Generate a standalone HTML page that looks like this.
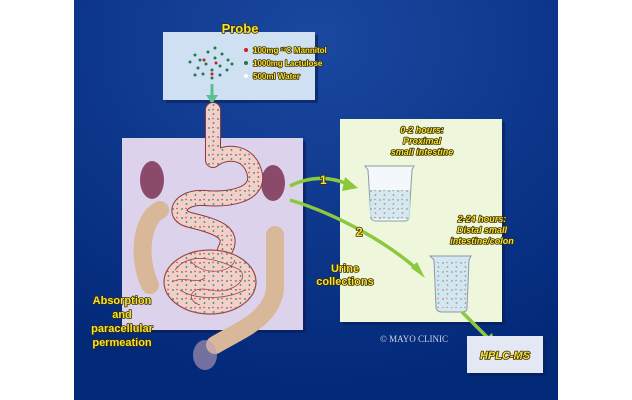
<!DOCTYPE html>
<html><head><style>
body{margin:0;width:632px;height:400px;background:#fff;position:relative;overflow:hidden;font-family:"Liberation Sans",Arial,sans-serif}
.y{fill:#f5e23a;stroke:#3a2e00;stroke-width:1.6;stroke-linejoin:round;font-weight:bold;font-family:"Liberation Sans",Arial,sans-serif;paint-order:stroke}
</style></head><body>
<svg width="632" height="400" viewBox="0 0 632 400" style="position:absolute;left:0;top:0">
<defs>
<radialGradient id="bg" cx="50%" cy="10%" r="90%"><stop offset="0" stop-color="#1a48a0"/><stop offset="1" stop-color="#022878"/></radialGradient>
<pattern id="dots" width="9" height="9" patternUnits="userSpaceOnUse"><circle cx="2" cy="2" r=".9" fill="#2a8a5a"/><circle cx="6.5" cy="6" r=".9" fill="#2a8a5a"/><circle cx="6" cy="1.5" r=".7" fill="#c83030"/></pattern>
</defs>
<rect x="74" y="0" width="484" height="400" fill="url(#bg)"/>
<!-- probe box -->
<rect x="166" y="35" width="152" height="68" fill="#0a1e55" opacity=".6"/>
<rect x="163" y="32" width="152" height="68" fill="#cfe0f2"/>
<text x="240" y="33" class="y" font-size="13" text-anchor="middle">Probe</text>
<g fill="#1e7a4a">
<circle cx="195" cy="55" r="1.5"/><circle cx="200" cy="60" r="1.5"/><circle cx="208" cy="52" r="1.5"/><circle cx="215" cy="58" r="1.5"/><circle cx="222" cy="54" r="1.5"/><circle cx="228" cy="60" r="1.5"/><circle cx="190" cy="62" r="1.5"/><circle cx="198" cy="68" r="1.5"/><circle cx="206" cy="64" r="1.5"/><circle cx="212" cy="70" r="1.5"/><circle cx="220" cy="66" r="1.5"/><circle cx="227" cy="70" r="1.5"/><circle cx="203" cy="74" r="1.5"/><circle cx="212" cy="78" r="1.5"/><circle cx="220" cy="75" r="1.5"/><circle cx="195" cy="75" r="1.5"/><circle cx="215" cy="48" r="1.5"/><circle cx="232" cy="64" r="1.5"/>
</g>
<g fill="#c82020"><circle cx="204" cy="60" r="1.5"/><circle cx="216" cy="63" r="1.5"/><circle cx="212" cy="74" r="1.5"/></g>
<circle cx="246" cy="50" r="2" fill="#c82020"/><circle cx="246" cy="63" r="2" fill="#1e7a4a"/><circle cx="246" cy="76" r="2" fill="#fff"/>
<text x="253" y="53" class="y" font-size="8">100mg ¹³C Mannitol</text>
<text x="253" y="66" class="y" font-size="8">1000mg Lactulose</text>
<text x="253" y="79" class="y" font-size="8">500ml Water</text>
<path d="M212 84 L212 98" stroke="#5ac090" stroke-width="3"/><path d="M206 95 L212 104 L218 95Z" fill="#5ac090"/>
<!-- lavender box -->
<rect x="125" y="141" width="181" height="192" fill="#0a1e55" opacity=".6"/>
<rect x="122" y="138" width="181" height="192" fill="#dcd2ec"/>
<!-- kidneys -->
<ellipse cx="152" cy="180" rx="12" ry="19" fill="#8a4a6a"/>
<ellipse cx="273" cy="183" rx="12" ry="18" fill="#8a4a6a"/>
<!-- colon -->
<path d="M160 210 C140 220 138 260 150 285 M275 235 L275 290 C270 320 240 330 215 345" fill="none" stroke="#d8b898" stroke-width="18" stroke-linecap="round"/>
<!-- esophagus / stomach / duodenum -->
<g fill="none" stroke-linecap="round" stroke-linejoin="round">
<path d="M213 110 L213 160 C225 150 250 150 255 175 C258 195 230 200 205 198 C180 196 170 215 190 220 C215 226 235 232 225 250" stroke="#8a3a3a" stroke-width="16"/>
<path d="M213 110 L213 160 C225 150 250 150 255 175 C258 195 230 200 205 198 C180 196 170 215 190 220 C215 226 235 232 225 250" stroke="#f3cfcc" stroke-width="14"/>
<path d="M213 110 L213 160 C225 150 250 150 255 175 C258 195 230 200 205 198 C180 196 170 215 190 220 C215 226 235 232 225 250" stroke="url(#dots)" stroke-width="14"/>
</g>
<!-- small intestine -->
<ellipse cx="210" cy="282" rx="46" ry="32" fill="#f3cfcc" stroke="#9a4a4a" stroke-width="1.2"/>
<ellipse cx="210" cy="282" rx="46" ry="32" fill="url(#dots)"/>
<g fill="none" stroke="#9a4a4a" stroke-width=".8"><path d="M175 270 C190 250 220 260 240 270 C250 280 230 295 210 290 C190 285 185 300 200 305"/><path d="M180 290 C195 300 225 300 245 290"/><path d="M190 260 C200 275 230 275 235 260"/><path d="M172 282 C185 275 195 285 205 278"/></g>
<ellipse cx="205" cy="355" rx="12" ry="15" fill="#c0a0b8" opacity=".6"/>
<!-- green box -->
<rect x="343" y="122" width="162" height="203" fill="#0a1e55" opacity=".6"/>
<rect x="340" y="119" width="162" height="203" fill="#eef6dc"/>
<text x="422" y="133" class="y" font-size="9" font-style="italic" text-anchor="middle">0-2 hours:</text>
<text x="422" y="144" class="y" font-size="9" font-style="italic" text-anchor="middle">Proximal</text>
<text x="422" y="155" class="y" font-size="9" font-style="italic" text-anchor="middle">small intestine</text>
<path d="M365 166 L368 170 L371 218 Q372 221 376 221 L405 221 Q408 221 409 218 L412 170 L414 166Z" fill="#f4f8fa" stroke="#8a9aa8"/>
<rect x="370" y="190" width="40" height="29" fill="#cfe2ee" opacity=".8"/>
<rect x="370" y="190" width="40" height="29" fill="url(#dots)" opacity=".6"/>
<text x="482" y="222" class="y" font-size="9" font-style="italic" text-anchor="middle">2-24 hours:</text>
<text x="482" y="233" class="y" font-size="9" font-style="italic" text-anchor="middle">Distal small</text>
<text x="482" y="244" class="y" font-size="9" font-style="italic" text-anchor="middle">intestine/colon</text>
<path d="M430 256 L434 260 L436 308 Q437 312 442 312 L462 312 Q467 312 467 308 L469 260 L471 256Z" fill="#d4e6f0" stroke="#8a9aa8"/>
<rect x="436" y="262" width="31" height="46" fill="url(#dots)" opacity=".6"/>
<!-- arrows -->
<path d="M290 186 C310 176 330 176 350 185" fill="none" stroke="#8cc83c" stroke-width="3.5"/>
<path d="M345 177 L358 188 L342 191Z" fill="#8cc83c"/>
<path d="M290 200 C340 215 390 245 418 270" fill="none" stroke="#8cc83c" stroke-width="3.5"/>
<path d="M411 268 L425 278 L417 262Z" fill="#8cc83c"/>
<path d="M462 312 L490 340" stroke="#8cc83c" stroke-width="3.5"/>
<path d="M483 341 L496 346 L492 333Z" fill="#8cc83c"/>
<text x="320" y="184" class="y" font-size="12">1</text>
<text x="356" y="236" class="y" font-size="12">2</text>
<text x="345" y="272" class="y" font-size="11" text-anchor="middle">Urine</text>
<text x="345" y="285" class="y" font-size="11" text-anchor="middle">collections</text>
<text x="380" y="342" fill="#d0d4e0" font-size="9" font-family="Liberation Serif,serif">© MAYO CLINIC</text>
<!-- hplc -->
<rect x="470" y="339" width="76" height="37" fill="#0a1e55" opacity=".6"/>
<rect x="467" y="336" width="76" height="37" fill="#e4e8f4"/>
<text x="505" y="359" class="y" font-size="11" font-style="italic" text-anchor="middle">HPLC-MS</text>
<text x="122" y="304" class="y" font-size="11" text-anchor="middle">Absorption</text>
<text x="122" y="318" class="y" font-size="11" text-anchor="middle">and</text>
<text x="122" y="332" class="y" font-size="11" text-anchor="middle">paracellular</text>
<text x="122" y="346" class="y" font-size="11" text-anchor="middle">permeation</text>
</svg>
</body></html>
